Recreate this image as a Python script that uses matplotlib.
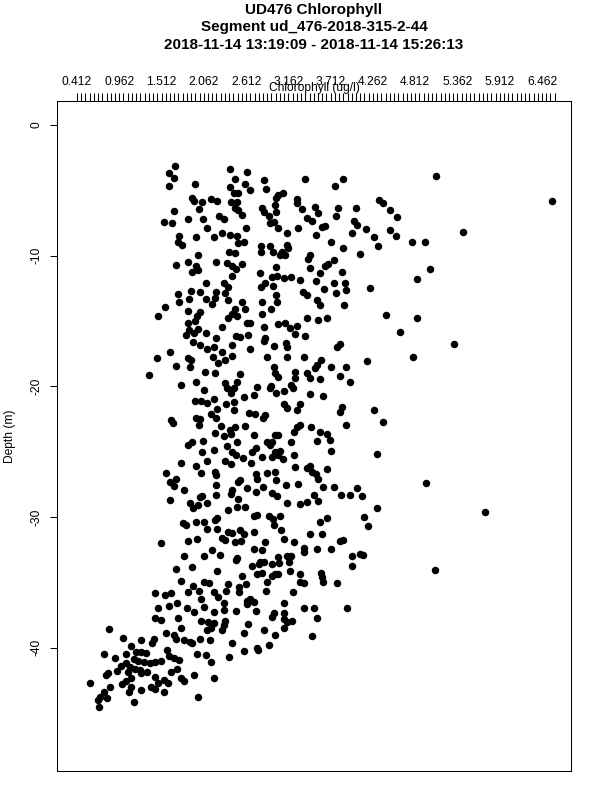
import matplotlib
matplotlib.use("Agg")
import matplotlib.pyplot as plt
import numpy as np

plt.rcParams['font.family'] = ['Liberation Sans', 'DejaVu Sans']
plt.rcParams['axes.unicode_minus'] = False

# ---- text ----
title_lines = ["UD476 Chlorophyll",
               "Segment ud_476-2018-315-2-44",
               "2018-11-14 13:19:09 - 2018-11-14 15:26:13"]
x_label = "Chlorophyll (ug/l)"
y_label = "Depth (m)"

x_tick_values = [0.412, 0.962, 1.512, 2.062, 2.612, 3.162,
                 3.712, 4.262, 4.812, 5.362, 5.912, 6.462]
x_minor_step = 0.055
x_minor_end = 6.63
y_tick_values = [0, -10, -20, -30, -40]

# ---- data: (chlorophyll ug/l, depth m) ----
shallow = [
    (1.69, -3.11), (1.61, -3.70), (1.68, -4.03), (1.61, -4.64), (1.95, -4.52),
    (2.40, -3.39), (2.63, -3.62), (2.47, -4.13), (2.60, -4.52), (2.40, -4.77),
    (2.66, -4.97), (2.46, -5.23), (2.51, -5.23), (1.91, -5.56), (1.94, -5.79),
    (2.04, -5.92), (2.16, -5.69), (2.24, -5.79), (2.42, -5.87), (2.49, -5.87),
    (2.47, -6.33), (2.51, -6.50), (2.56, -6.89), (2.00, -6.45), (1.67, -6.58),
    (2.26, -6.96), (2.33, -7.22), (1.55, -7.40), (1.65, -7.47), (1.85, -7.22),
    (2.05, -7.22), (2.10, -7.86), (2.61, -7.91), (1.74, -8.50), (1.96, -8.55),
    (2.20, -8.60), (2.30, -8.24), (2.40, -8.42), (2.49, -8.47), (1.72, -8.93),
    (1.78, -9.18), (2.51, -9.06), (2.58, -8.98), (1.98, -9.95), (2.39, -9.74),
    (2.47, -9.82), (1.70, -10.71), (1.86, -10.46), (1.96, -10.77), (1.98, -11.10),
    (1.91, -11.22), (2.22, -10.51), (2.36, -10.59), (2.43, -10.77), (2.48, -11.02),
    (2.56, -10.66), (2.43, -11.53), (2.09, -12.07), (2.33, -12.07), (2.38, -12.42),
    (2.34, -12.83), (1.90, -12.68), (1.87, -13.32), (2.01, -12.81), (2.22, -12.75),
    (2.21, -13.27), (2.09, -13.32), (2.17, -13.70), (1.72, -12.96), (1.74, -13.52),
    (2.38, -13.39), (2.56, -13.52), (1.56, -13.90), (1.47, -14.59), (1.85, -14.23),
    (2.01, -14.29), (1.97, -14.62), (1.95, -14.97), (1.85, -15.13), (2.47, -14.08),
    (2.60, -14.08), (2.43, -14.49), (2.38, -14.80), (2.50, -14.62), (2.62, -15.18),
    (2.66, -15.18), (2.30, -15.43), (1.87, -15.69), (1.98, -15.61), (2.09, -15.94),
    (1.93, -15.94), (1.83, -16.07), (2.22, -16.27), (2.48, -16.12), (2.53, -16.20),
    (2.64, -16.07), (1.92, -16.63), (2.01, -16.84), (2.43, -16.84), (2.10, -17.17),
    (2.19, -17.01), (2.30, -17.35), (2.66, -17.14), (1.62, -17.35),
    (2.85, -4.21), (2.87, -4.90), (3.38, -4.13), (3.87, -4.16), (3.77, -4.67),
    (3.09, -5.18), (3.03, -5.36), (3.00, -5.61), (2.99, -6.12), (3.27, -5.69),
    (3.27, -5.99), (2.82, -6.38), (2.85, -6.68), (2.91, -6.96), (3.00, -6.63),
    (3.34, -6.45), (3.51, -6.30), (3.55, -6.76), (3.81, -6.38), (3.78, -6.96),
    (4.04, -6.38), (4.34, -5.74), (4.39, -5.99), (4.48, -6.50), (4.58, -7.07),
    (3.40, -7.14), (3.47, -7.35), (3.60, -7.83), (3.64, -7.70), (4.01, -7.32),
    (4.06, -7.65), (4.17, -7.96), (2.92, -7.53), (2.97, -7.40), (3.03, -7.91),
    (3.14, -8.24), (3.29, -7.91), (3.52, -8.42), (3.99, -8.29), (4.28, -8.60),
    (4.49, -8.03), (4.56, -8.47), (4.77, -8.93), (3.72, -8.98), (3.87, -9.44),
    (4.33, -9.26), (2.81, -9.23), (2.92, -9.26), (2.96, -9.69), (3.14, -9.18),
    (3.16, -9.39), (3.08, -9.69), (3.05, -9.95), (3.12, -9.95), (2.81, -9.69),
    (3.44, -9.95), (3.42, -10.28), (4.09, -9.90), (3.75, -10.33), (3.68, -10.66),
    (3.64, -10.79), (3.44, -10.92), (3.57, -11.30), (3.00, -10.89), (2.79, -11.35),
    (2.86, -12.07), (2.96, -12.32), (2.95, -11.61), (3.01, -11.53), (3.11, -11.68),
    (3.20, -11.61), (3.31, -11.86), (3.52, -11.91), (3.86, -11.22), (3.76, -12.07),
    (3.90, -12.12), (3.91, -12.63), (3.78, -12.88), (3.63, -12.58), (3.35, -12.75),
    (3.40, -13.01), (3.53, -13.39), (3.58, -13.78), (3.88, -13.78), (4.22, -12.45),
    (2.81, -12.37), (2.82, -13.52), (3.00, -13.01), (3.01, -13.52), (2.94, -14.11),
    (4.84, -11.81), (2.82, -14.49), (3.40, -14.74), (3.55, -14.92), (3.66, -14.74),
    (4.43, -14.54), (4.83, -14.80), (2.84, -15.43), (3.03, -15.23), (3.12, -15.13),
    (3.18, -15.56), (3.28, -15.38), (3.25, -16.02), (3.38, -16.15), (4.62, -15.82),
    (2.86, -16.33), (2.84, -16.53), (2.98, -16.91), (3.13, -16.71), (3.14, -16.96),
    (3.83, -16.79), (3.80, -16.96),
]

outliers = [
    (5.08, -3.88), (6.59, -5.84), (5.44, -8.19), (4.94, -8.98), (5.01, -11.02),
    (5.32, -16.76), (4.95, -27.42), (5.72, -29.59), (5.07, -34.05),
]

middle = [
    (1.45, -17.80), (1.86, -17.80), (1.89, -17.98), (1.70, -18.41), (1.88, -18.49),
    (2.18, -17.73), (2.25, -18.24), (2.34, -17.98), (2.43, -17.67), (1.35, -19.13),
    (1.77, -19.89), (1.96, -19.69), (2.08, -18.87), (2.21, -19.00), (2.07, -20.28),
    (2.34, -19.77), (2.36, -20.15), (2.49, -19.64), (2.53, -19.05), (2.46, -20.10),
    (2.42, -20.53), (2.75, -20.07), (2.71, -20.66), (2.58, -20.79), (1.95, -21.09),
    (2.03, -21.09), (2.10, -21.30), (2.19, -20.99), (2.24, -21.73), (2.35, -21.35),
    (2.46, -21.22), (2.46, -21.81), (2.16, -22.14), (2.22, -22.44), (2.65, -22.06),
    (2.73, -22.14), (1.63, -22.57), (1.66, -22.78), (1.96, -22.44), (2.01, -22.50),
    (2.00, -22.95), (2.28, -23.03), (2.40, -23.34), (2.47, -23.08), (2.60, -23.01),
    (2.21, -23.54), (2.33, -23.77), (2.41, -23.64), (2.71, -23.72), (1.85, -24.49),
    (1.91, -24.28), (2.05, -24.15), (2.49, -24.28), (2.04, -24.99), (2.19, -24.87),
    (2.36, -24.56), (2.43, -25.05), (2.48, -25.25), (2.57, -25.51), (2.69, -25.05),
    (2.74, -24.74), (1.77, -25.84), (1.96, -26.07), (2.10, -25.71), (2.34, -25.71),
    (2.42, -25.97), (2.67, -25.89), (1.57, -26.60), (1.70, -27.09), (1.62, -27.34),
    (1.67, -27.62), (1.81, -27.93), (2.03, -26.65), (2.21, -26.53), (2.22, -26.78),
    (2.22, -27.55), (2.51, -27.29), (2.53, -27.16), (2.75, -27.09), (2.74, -26.73),
    (2.43, -27.93), (2.41, -28.24), (2.63, -27.80), (2.74, -28.11), (1.62, -28.72),
    (1.88, -28.95), (1.92, -29.33), (1.99, -29.08), (2.10, -28.90), (2.01, -28.44),
    (2.04, -28.36), (2.22, -28.31), (2.51, -28.64), (2.38, -29.49), (2.49, -29.26),
    (2.60, -29.26), (2.72, -29.92), (2.75, -29.84), (1.79, -30.48), (1.83, -30.61),
    (1.96, -30.35), (2.07, -30.40), (2.21, -30.22), (2.24, -30.10), (2.10, -30.91),
    (2.23, -30.94), (2.38, -31.12), (2.43, -31.25), (2.53, -30.99), (2.58, -31.30),
    (2.71, -31.12), (1.50, -32.01), (1.86, -31.81), (1.97, -31.65), (2.30, -31.63),
    (2.34, -31.76), (2.47, -31.93), (2.55, -31.81),
    (2.88, -17.73), (3.14, -17.73), (3.37, -17.73), (3.59, -17.98), (4.18, -18.06),
    (4.78, -17.73), (2.97, -18.49), (2.99, -19.00), (3.03, -19.26), (3.25, -18.87),
    (3.25, -19.33), (3.40, -19.00), (3.44, -19.38), (3.51, -18.62), (3.53, -18.36),
    (3.58, -19.43), (3.72, -18.49), (3.91, -18.49), (3.83, -19.18), (3.96, -19.69),
    (2.94, -19.94), (2.92, -20.15), (3.00, -20.48), (3.10, -20.33), (3.20, -19.89),
    (3.22, -20.15), (3.44, -20.58), (3.61, -20.74), (3.11, -21.37), (3.15, -21.68),
    (3.31, -21.35), (3.27, -21.81), (3.86, -21.55), (3.83, -21.93), (4.27, -21.81),
    (4.39, -22.75), (2.86, -22.19), (2.83, -22.44), (3.31, -22.95), (3.28, -23.08),
    (3.45, -23.13), (3.91, -22.95), (3.23, -23.52), (2.99, -23.72), (3.03, -23.72),
    (3.57, -23.52), (3.66, -23.64), (3.54, -24.15), (3.70, -24.08), (2.88, -24.28),
    (2.92, -24.49), (2.95, -24.28), (3.19, -24.28), (3.72, -24.92), (2.99, -24.99),
    (3.05, -24.94), (3.03, -25.25), (3.09, -25.56), (2.82, -25.38), (2.95, -25.38),
    (3.24, -25.25), (4.32, -25.20), (3.25, -26.14), (3.40, -26.22), (3.44, -26.07),
    (3.47, -26.53), (3.52, -26.71), (3.55, -27.11), (3.67, -26.35), (2.88, -26.65),
    (2.99, -26.53), (3.00, -27.16), (2.83, -27.67), (3.13, -27.55), (3.29, -27.50),
    (3.61, -27.73), (3.76, -27.67), (4.06, -27.75), (2.95, -28.18), (3.02, -28.36),
    (3.14, -28.95), (3.31, -29.00), (3.40, -28.82), (3.50, -28.31), (3.55, -28.75),
    (3.85, -28.31), (3.97, -28.31), (4.12, -28.36), (4.32, -29.28), (2.91, -29.89),
    (2.96, -30.15), (3.05, -29.89), (2.97, -30.61), (3.06, -30.99), (3.57, -30.35),
    (3.67, -30.05), (4.14, -29.97), (4.20, -30.66), (3.44, -31.32), (3.60, -31.30),
    (3.83, -31.81), (3.87, -31.78), (2.86, -31.93), (3.11, -31.70), (3.23, -31.93),
]

deep = [
    (1.80, -32.95), (2.06, -32.95), (2.17, -32.52), (1.70, -34.00), (1.91, -33.79),
    (1.77, -34.86), (1.92, -35.27), (2.06, -34.94), (2.13, -35.02), (1.43, -35.83),
    (1.56, -35.96), (1.64, -35.78), (1.85, -35.71), (2.00, -35.66), (2.19, -35.71),
    (2.03, -36.27), (1.46, -36.93), (1.61, -36.78), (1.71, -36.55), (1.84, -36.93),
    (1.94, -37.24), (2.07, -36.85), (2.19, -37.24), (1.43, -37.70), (1.51, -37.87),
    (1.73, -37.75), (2.03, -37.95), (2.12, -38.00), (2.19, -38.13), (1.77, -38.46),
    (2.10, -38.64), (2.16, -38.51), (0.83, -38.59), (1.01, -39.23), (1.25, -39.41),
    (1.41, -39.33), (1.39, -39.66), (1.57, -38.90), (1.67, -39.02), (1.70, -39.35),
    (1.80, -39.41), (1.88, -39.53), (1.91, -39.66), (2.01, -39.35), (2.14, -39.41),
    (1.12, -39.84), (1.18, -40.35), (1.25, -40.35), (1.31, -40.43), (1.05, -40.48),
    (0.76, -40.48), (0.91, -40.76), (0.99, -41.37), (1.15, -40.86), (1.20, -41.01),
    (1.28, -41.11), (1.36, -41.19), (1.43, -41.06), (1.51, -41.01), (1.58, -40.17),
    (1.61, -40.60), (1.67, -40.81), (1.74, -40.94), (1.97, -40.50), (2.09, -40.55),
    (2.16, -41.06), (0.93, -41.78), (1.07, -41.88), (1.17, -41.63), (1.23, -41.70),
    (1.32, -41.83), (0.79, -42.08), (0.82, -41.96), (1.05, -42.54), (1.12, -42.29),
    (1.25, -41.96), (1.64, -41.83), (1.71, -41.63), (1.77, -42.29), (1.81, -42.54),
    (1.93, -42.08), (1.43, -42.21), (1.54, -42.47), (1.47, -42.72), (1.60, -42.72),
    (0.58, -42.72), (0.84, -42.98), (1.09, -43.36), (1.12, -42.98), (1.25, -43.23),
    (1.38, -42.98), (1.43, -43.16), (1.54, -43.36), (0.76, -43.36), (0.71, -43.74),
    (0.68, -44.00), (0.80, -43.82), (0.70, -44.56), (1.15, -44.18), (1.99, -43.74),
    (2.20, -42.34), (1.05, -41.20), (1.10, -41.45), (1.00, -42.80),
    (2.27, -32.90), (2.48, -33.28), (2.50, -33.16), (2.71, -32.44), (2.82, -32.52),
    (3.36, -32.34), (3.36, -32.70), (3.53, -32.44), (3.72, -32.44), (3.99, -32.98),
    (4.10, -32.85), (4.13, -32.90), (3.99, -33.72), (2.23, -34.10), (2.56, -34.51),
    (2.69, -33.72), (2.79, -33.41), (2.78, -33.61), (2.85, -33.41), (2.95, -33.61),
    (3.03, -33.03), (3.04, -33.54), (3.14, -32.98), (3.20, -32.98), (3.17, -33.46),
    (2.75, -34.35), (2.82, -34.25), (2.95, -34.51), (2.99, -34.35), (3.03, -34.35),
    (2.89, -34.94), (3.18, -34.10), (3.31, -34.35), (3.31, -34.94), (3.37, -35.07),
    (3.59, -34.30), (3.60, -34.56), (3.61, -34.99), (3.80, -35.07), (2.38, -35.12),
    (2.61, -35.15), (2.52, -35.32), (2.52, -35.76), (2.35, -35.63), (2.25, -36.09),
    (2.32, -36.60), (2.33, -37.11), (2.62, -36.40), (2.66, -36.27), (2.72, -36.47),
    (2.63, -36.65), (2.87, -35.63), (3.22, -35.71), (3.11, -36.60), (3.36, -36.98),
    (3.50, -36.98), (3.54, -37.70), (3.93, -36.98), (2.48, -37.19), (2.74, -37.19),
    (2.97, -37.37), (2.95, -37.62), (3.11, -37.31), (2.34, -37.95), (2.32, -38.26),
    (2.30, -38.64), (2.64, -38.18), (3.10, -37.80), (3.14, -38.05), (3.21, -37.95),
    (3.10, -38.46), (2.84, -38.64), (2.58, -38.90), (2.99, -39.02), (3.47, -39.10),
    (2.43, -39.66), (2.59, -40.25), (2.75, -40.04), (2.77, -40.17), (2.91, -39.79),
    (2.39, -40.73),
]

# ---- plot ----
fig = plt.figure(figsize=(6, 8), dpi=100)
ax = fig.add_axes([57 / 600, 29 / 800, 514 / 600, 670.3 / 800])

for group in (shallow, middle, deep, outliers):
    chl = [p[0] for p in group]
    depth = [p[1] for p in group]
    ax.plot(chl, depth, 'o', color='black', ms=5.4, mew=0, linestyle='none')

ax.set_xlim(0.152, 6.839)
ax.set_ylim(-49.43, 1.86)

ax.xaxis.tick_top()
ax.set_xticks(x_tick_values)
ax.set_xticklabels([f"{v:.3f}" for v in x_tick_values])
ax.set_xticks(np.arange(x_tick_values[0], x_minor_end, x_minor_step), minor=True)
ax.tick_params(axis='x', which='both', length=6, width=0.75, pad=3.4,
               labelsize=8.64, colors='black')

ax.set_yticks(y_tick_values)
ax.set_yticklabels([str(v) for v in y_tick_values])
ax.tick_params(axis='y', length=5, width=0.75, pad=5.5, labelsize=8.64,
               labelrotation=90)
for lbl in ax.get_yticklabels():
    lbl.set_va('center')

for sp in ax.spines.values():
    sp.set_linewidth(0.75)

# title block and axis labels sit where the original puts them
xc = (57 + 571) / 2 / 600
for i, line in enumerate(title_lines):
    fig.text(xc, 1 - (10 + 17.5 * i) / 800, line, ha='center', va='center',
             fontsize=11, fontweight='bold')
fig.text(xc, 1 - 87.5 / 800, x_label, ha='center', va='center', fontsize=8.64)
fig.text(10 / 600, 1 - 436 / 800, y_label, ha='center', va='center',
         rotation=90, fontsize=8.64)

fig.savefig("out.png", dpi=100)
